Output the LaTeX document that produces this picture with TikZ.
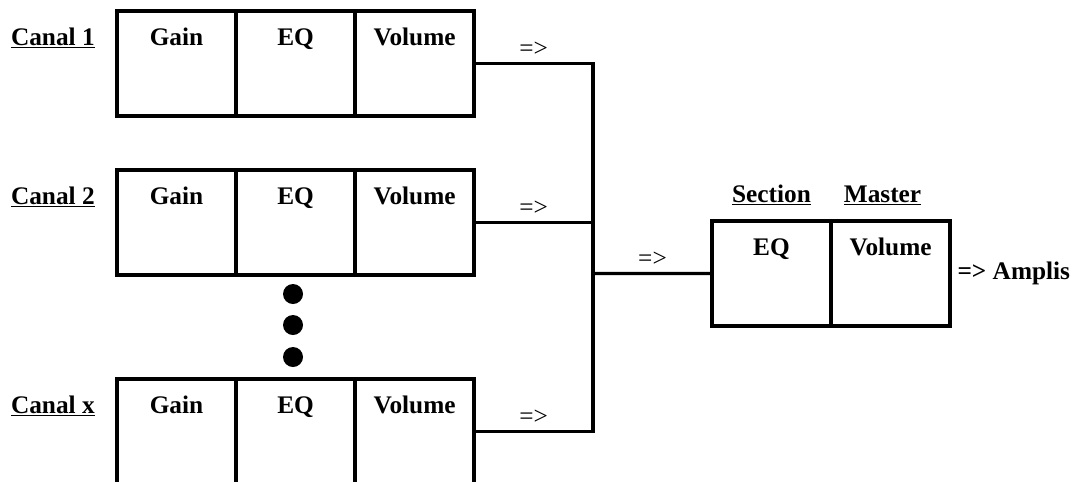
\documentclass[tikz,border=0pt]{standalone}
\usepackage{fontspec}
\setmainfont{Liberation Serif}
\usetikzlibrary{positioning}
\tikzset{
  cell/.style={draw, line width=2.4pt, inner sep=0pt, outer sep=0pt, minimum width=2.975cm, text height=0.85cm, text depth=1.775cm, font=\bfseries},
  chan/.style={inner sep=0pt, font=\bfseries},
  wire/.style={line width=2.4pt},
  flow/.style={font=\normalfont, inner sep=4pt},
  dot/.style={circle, fill=black, inner sep=0pt, minimum size=0.5cm}
}

\begin{document}
\fontsize{18}{21}\selectfont
\begin{tikzpicture}[x=0.025cm, y=-0.025cm]
  \useasboundingbox (0,0) rectangle (1079,481);
  \clip (0,0) rectangle (1079,481);

  % channel strips
  \node[cell, anchor=north west] (gain1) at (117,11) {Gain};
  \node[cell, right=0pt of gain1] (eq1) {EQ};
  \node[cell, right=0pt of eq1] (vol1) {Volume};
  \node[chan, left=0.55cm of gain1.base west, anchor=base east] (ch1) {\underline{Canal 1}};

  \node[cell, anchor=north west] (gain2) at (117,170) {Gain};
  \node[cell, right=0pt of gain2] (eq2) {EQ};
  \node[cell, right=0pt of eq2] (vol2) {Volume};
  \node[chan, left=0.55cm of gain2.base west, anchor=base east] (ch2) {\underline{Canal 2}};

  \node[cell, anchor=north west] (gainx) at (117,379) {Gain};
  \node[cell, right=0pt of gainx] (eqx) {EQ};
  \node[cell, right=0pt of eqx] (volx) {Volume};
  \node[chan, left=0.55cm of gainx.base west, anchor=base east] (chx) {\underline{Canal x}};

  \node[dot] (dot1) at (293,294) {};
  \node[dot] (dot2) at (293,325) {};
  \node[dot] (dot3) at (293,357) {};

  % master section
  \node[cell, anchor=north west] (meq) at (712,221) {EQ};
  \node[cell, right=0pt of meq] (mvol) {Volume};
  \node[chan, anchor=base] (sec) at ([yshift=0.475cm]meq.north) {\underline{Section}};
  \node[chan, anchor=base] (mas) at ([xshift=-0.2cm, yshift=0.475cm]mvol.north) {\underline{Master}};
  \node[chan, right=0.18cm of mvol.east] (amp) {=> Amplis};

  \coordinate (bus) at (593,273.5);
  \draw[wire] (vol1.east) -| node[flow, pos=0.25, above] (to1) {=>} (bus);
  \draw[wire] (vol2.east) -| node[flow, pos=0.25, above] (to2) {=>} (bus);
  \draw[wire] (volx.east) -| node[flow, pos=0.25, above] (tox) {=>} (bus);
  \draw[wire] (bus) -- node[flow, above] (tom) {=>} (meq.west);
\end{tikzpicture}
\end{document}
